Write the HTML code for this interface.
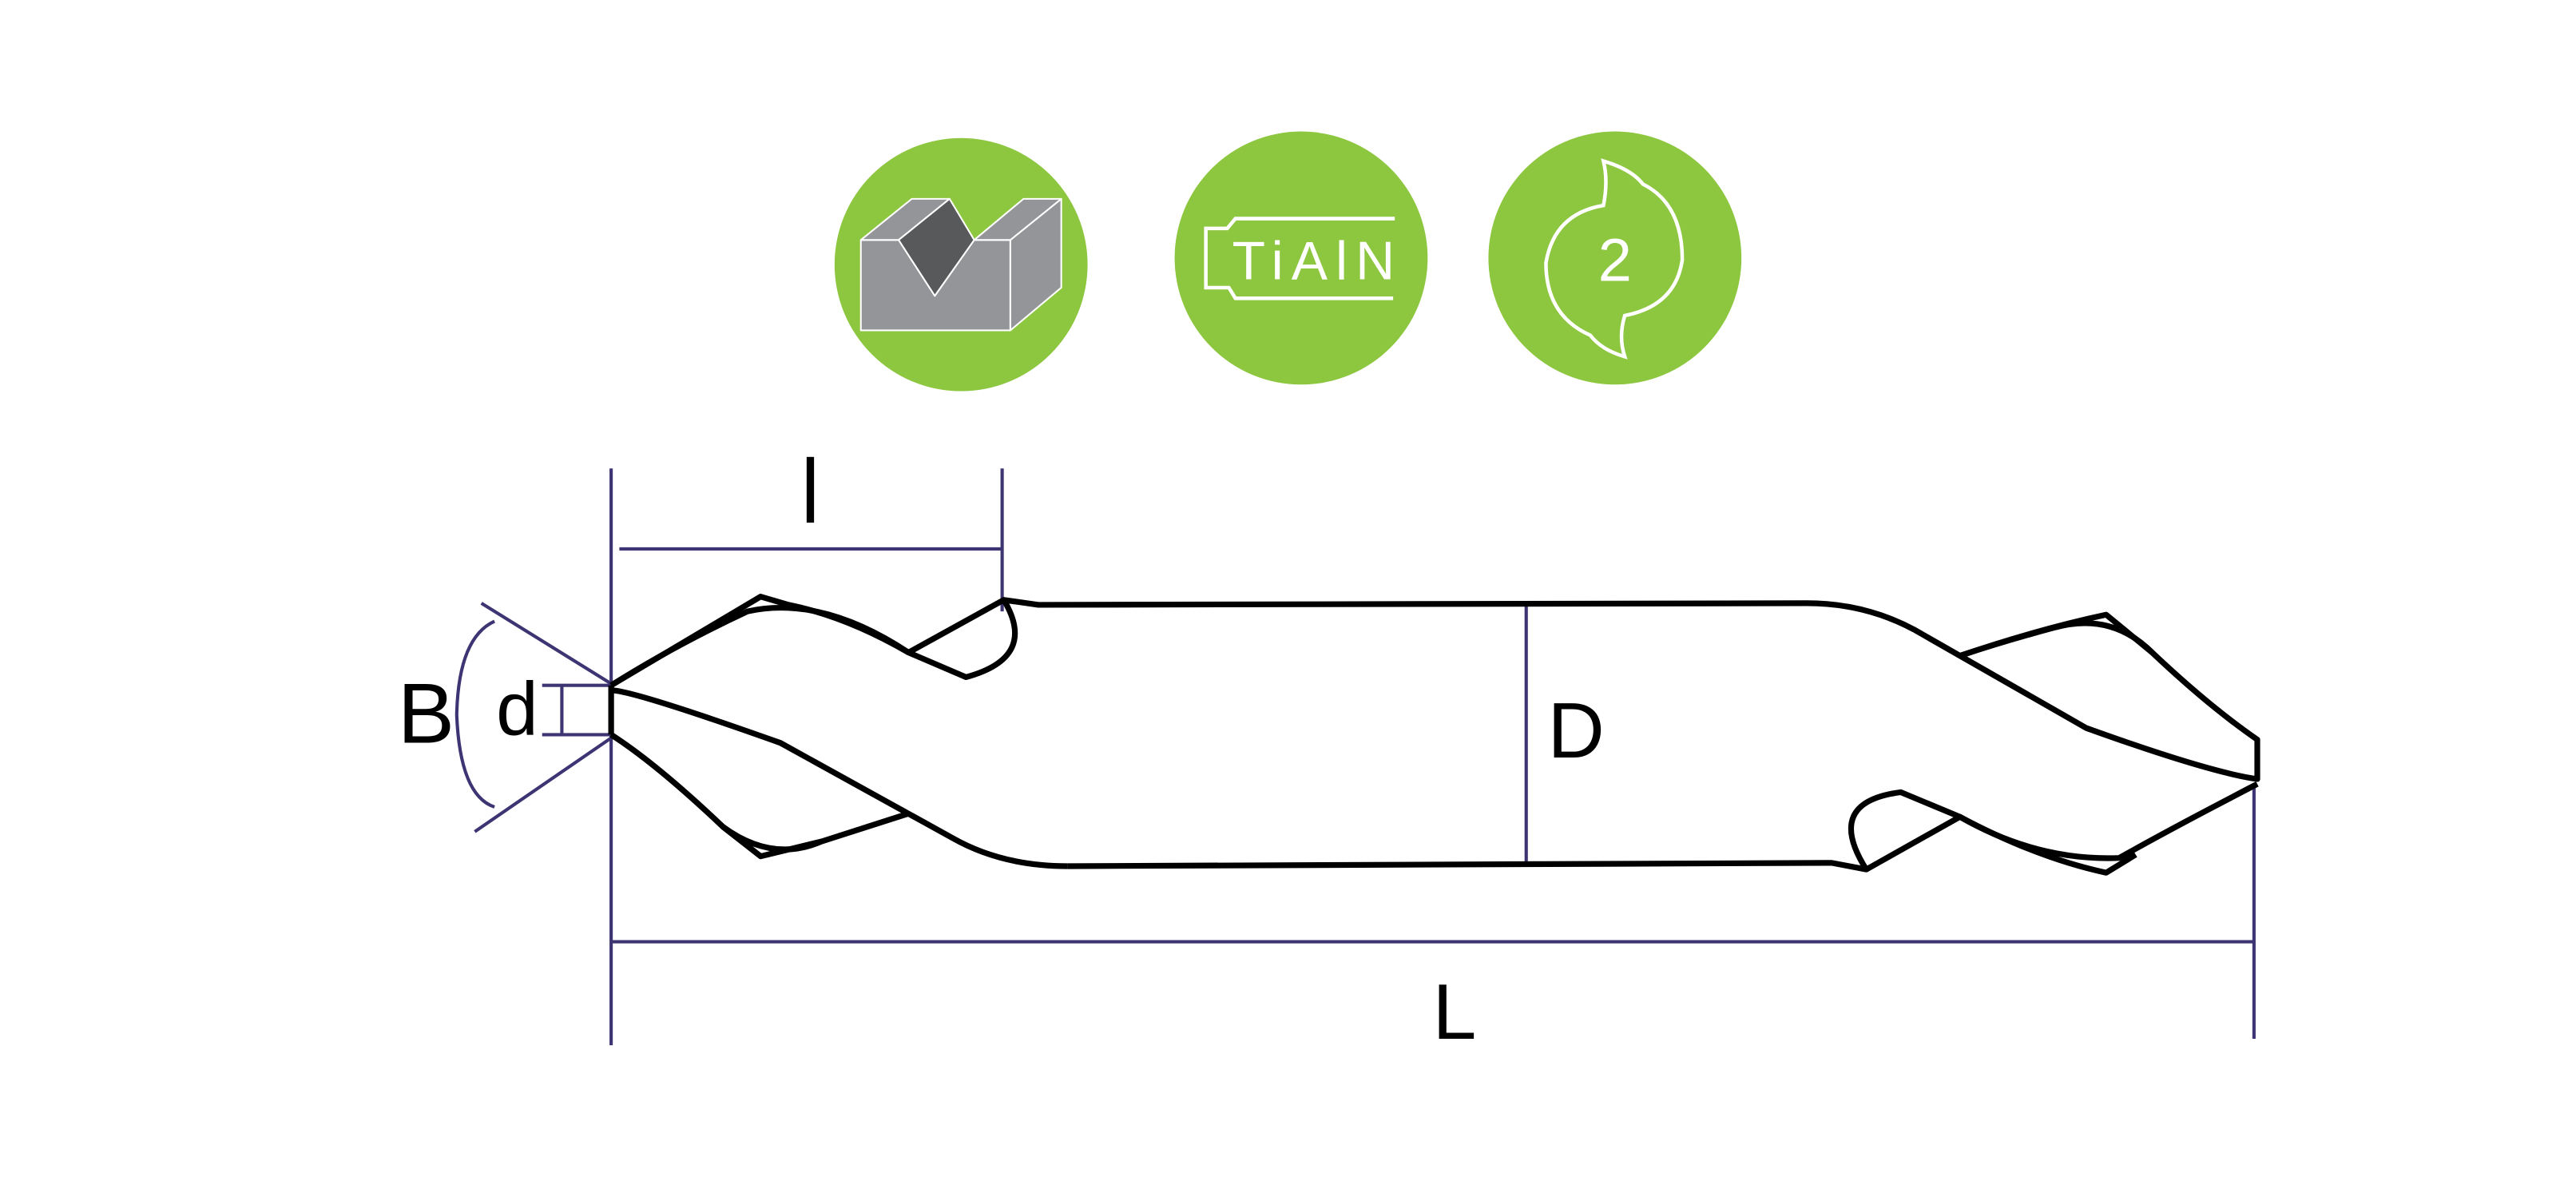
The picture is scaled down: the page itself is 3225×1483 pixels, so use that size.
<!DOCTYPE html>
<html><head><meta charset="utf-8"><style>
html,body{margin:0;padding:0;background:#fff;}
svg{display:block;}
</style></head><body>
<svg width="3225" height="1483" viewBox="0 0 1568 721" preserveAspectRatio="none" xmlns="http://www.w3.org/2000/svg">
<circle cx="585" cy="161" r="77" fill="#8dc63f"/>
<circle cx="792" cy="157" r="77" fill="#8dc63f"/>
<circle cx="983" cy="157" r="77" fill="#8dc63f"/>
<g stroke="#fff" stroke-width="1" stroke-linejoin="round">
<polygon points="524,146 547,146 569,180 593,146 615,146 615,201 524,201" fill="#939598"/>
<polygon points="615,146 646,121 646,175 615,201" fill="#939598"/>
<polygon points="524,146 555,121 578,121 547,146" fill="#939598"/>
<polygon points="593,146 623,121 646,121 615,146" fill="#939598"/>
<polygon points="547,146 578,121 593,146 569,180" fill="#58595b"/>
</g>
<path d="M849,133 L752,133 L747,139 L734,139 L734,175 L748,175 L752,181.5 L848,181.5" fill="none" stroke="#fff" stroke-width="2.2"/>
<text x="750" y="170" font-family="Liberation Sans, sans-serif" font-size="33" fill="#fff" textLength="99" lengthAdjust="spacing">TiAlN</text>
<path d="M976,125 Q979,110 976,98 Q993,103 1000,112 Q1024,124 1024,158 Q1020,186 989,192 Q985,205 989,217 Q975,213 968,204 Q941,192 941,160 Q946,130 976,125 Z" fill="none" stroke="#fff" stroke-width="2.2"/>
<text x="983" y="171" text-anchor="middle" font-family="Liberation Sans, sans-serif" font-size="37" fill="#fff">2</text>
<g stroke="#3d3573" stroke-width="2" fill="none">
<line x1="372" y1="285" x2="372" y2="636"/>
<line x1="377" y1="334" x2="610" y2="334"/>
<line x1="610" y1="285" x2="610" y2="372"/>
<line x1="372" y1="573" x2="1372" y2="573"/>
<line x1="1372" y1="478" x2="1372" y2="632"/>
<line x1="929" y1="369" x2="929" y2="525"/>
<line x1="330" y1="417" x2="372" y2="417"/>
<line x1="330" y1="447" x2="372" y2="447"/>
<line x1="342" y1="417" x2="342" y2="447"/>
<line x1="293" y1="367" x2="372" y2="416"/>
<line x1="289" y1="506" x2="372" y2="449"/>
<path d="M301,378 Q279,388 278,435 Q280,484 301,491"/>
</g>
<g font-family="Liberation Sans, sans-serif" fill="#000">
<rect x="491" y="278" width="4.5" height="40"/>
<text x="872" y="632" font-size="48">L</text>
<text x="942" y="461" font-size="48">D</text>
<text x="302" y="447" font-size="46">d</text>
<text x="242" y="452" font-size="52">B</text>
</g>
<g stroke="#000" stroke-width="3.5" fill="none" stroke-linejoin="round">
<path d="M611,365 L632,368 L1100,367 Q1135,367 1165,383 L1270,443 Q1345,470 1374,474 L1374,450 Q1345,430 1310,397 Q1285,372 1250,382 Q1220,390 1193,399"/>
<path d="M1193,399 Q1240,383 1282,374 L1310,397"/>
<path d="M650,527 L1115,525 L1136,529 L1193,497 Q1240,524 1290,522 Q1320,505 1374,477"/>
<path d="M1193,497 L1157,482 Q1110,488 1136,529"/>
<path d="M1193,497 Q1240,522 1282,531 L1300,520"/>
<path d="M372,417 L372,447"/>
<path d="M372,417 Q410,393 455,372 Q500,362 553,397 L611,365 Q632,400 588,412 L553,397"/>
<path d="M372,417 L463,363 L480,368 Q515,375 553,397"/>
<path d="M372,420 Q385,420 475,452 L580,510 Q610,527 650,527"/>
<path d="M372,447 Q400,465 440,503 Q470,525 500,512 L553,495"/>
<path d="M440,503 L463,521 L500,512"/>
</g>
</svg>
</body></html>
